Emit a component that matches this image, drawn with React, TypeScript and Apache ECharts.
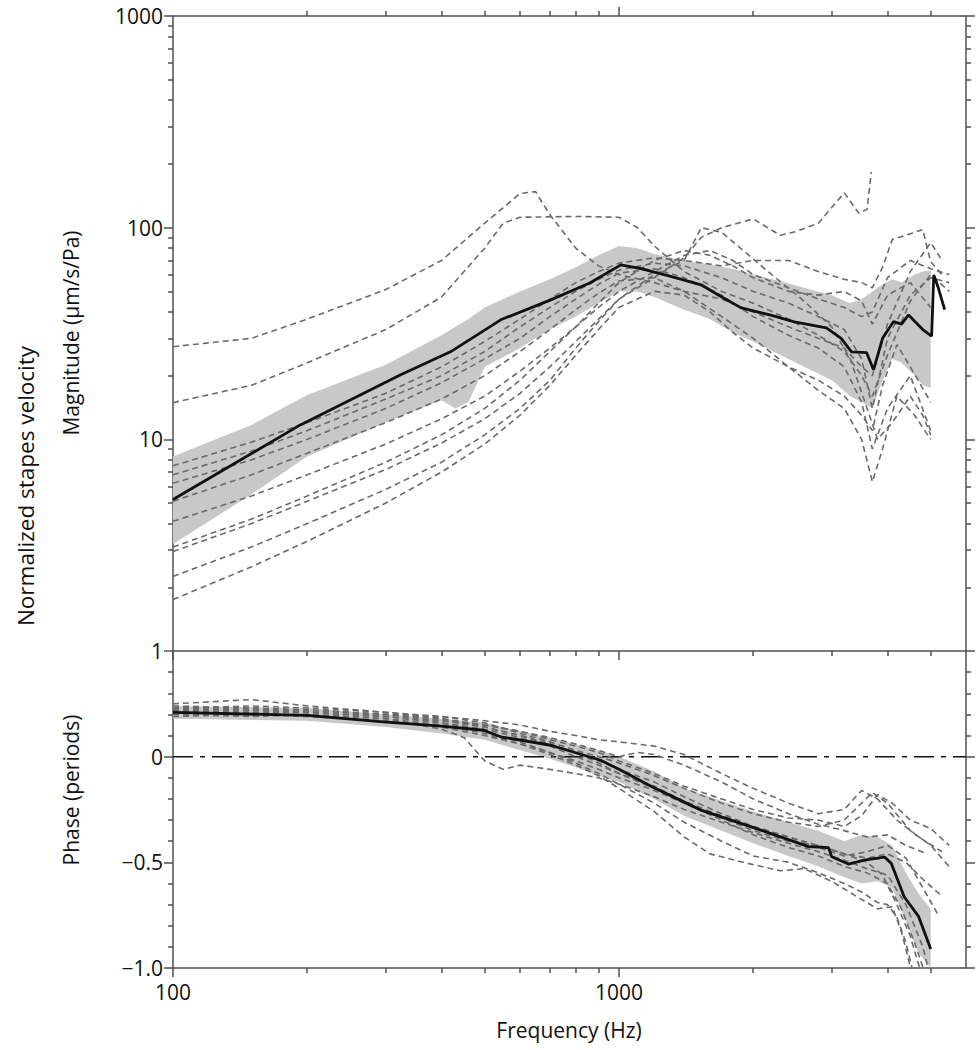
import React, { useEffect, useRef } from "react";
import * as echarts from "echarts";

// ---------- tick values ----------
const X_MAJOR = [100, 1000];
const X_MINOR = [200, 300, 400, 500, 600, 700, 800, 900, 2000, 3000, 4000, 5000];
const X_LABELS = [100, 1000];
const MAG_MAJOR = [1, 10, 100, 1000];
const MAG_MINOR = [2, 3, 4, 5, 6, 7, 8, 9, 20, 30, 40, 50, 60, 70, 80, 90, 200, 300, 400, 500, 600, 700, 800, 900];
const MAG_LABELS = [1, 10, 100, 1000];
const PHASE_MAJOR = [-1, -0.5, 0];
const PHASE_MINOR = [-0.9, -0.8, -0.7, -0.6, -0.4, -0.3, -0.2, -0.1, 0.1, 0.2, 0.3, 0.4];
const PHASE_LABELS = [-1, -0.5, 0];

// ---------- magnitude: mean and band ----------
const magMeanF = [100, 193, 324, 419, 543, 703, 860, 1010, 1120, 1300, 1528, 1700, 1880, 2200, 2473, 2918, 3150, 3322, 3590, 3722, 3900, 4128, 4300, 4460, 4800, 5024, 5080, 5200, 5374];
const magMeanV = [5.2, 11.7, 20.2, 25.9, 36.7, 45.6, 54.8, 66.7, 64, 59, 53.7, 47, 41.8, 38.5, 35.9, 33.6, 30, 25.9, 25.7, 21.3, 30, 36, 35, 38.7, 33, 30.7, 59.8, 52, 41];

const magBandF = [100, 150, 200, 300, 400, 430, 460, 500, 600, 700, 800, 900, 1000, 1100, 1200, 1400, 1600, 1800, 2000, 2300, 2600, 3000, 3300, 3500, 3700, 3900, 4100, 4300, 4600, 4800, 5000];
const magBandLow = [3.2, 5.5, 8.3, 12, 15.3, 14, 15, 22, 27, 33, 38, 44, 50, 50, 47, 41, 37, 32, 29, 25, 22, 19, 16, 15, 14, 19, 24, 23, 20, 18, 17.5];
const magBandUp = [8.3, 11.7, 16.2, 22.5, 31, 34, 37, 42, 50, 57, 65, 74, 82, 80, 75, 70, 67, 64, 60, 56, 52, 48, 44, 46, 50, 54, 57, 55, 60, 62, 63];

// ---------- magnitude: individual ears ----------
const magS1 = [[100, 27.4], [150, 30], [200, 37], [300, 51], [400, 70], [500, 105], [600, 145], [650, 148], [700, 115], [800, 80], [900, 66], [1000, 60], [1200, 55], [1400, 50], [1700, 46], [2000, 40], [2400, 34], [2800, 30], [3200, 27], [3500, 22], [3700, 20], [4000, 35], [4500, 62], [5000, 85], [5300, 70]];
const magS2 = [[100, 14.9], [150, 18], [200, 23], [300, 33], [400, 47], [500, 80], [550, 105], [600, 112], [800, 113], [1000, 112], [1100, 100], [1200, 82], [1400, 62], [1700, 50], [2000, 44], [2400, 37], [2800, 31], [3200, 26], [3500, 20], [3700, 16], [4000, 25], [4500, 45], [5000, 60], [5500, 50]];
const magS3 = [[100, 7.5], [150, 9.7], [200, 12], [300, 16.5], [400, 22], [500, 29], [600, 37], [700, 46], [800, 55], [900, 62], [1000, 68], [1200, 72], [1400, 70], [1700, 66], [2000, 70], [2400, 70], [2800, 62], [3200, 57], [3500, 55], [3700, 52], [3900, 65], [4100, 88], [4400, 92], [4800, 98], [5000, 69], [5300, 60]];
const magS4 = [[100, 6.8], [150, 8.8], [200, 11], [300, 15.5], [400, 20], [500, 26], [600, 34], [700, 42], [800, 50], [900, 57], [1000, 63], [1200, 68], [1400, 66], [1700, 58], [2000, 50], [2400, 44], [2800, 38], [3200, 33], [3500, 24], [3700, 14], [4000, 30], [4500, 48], [5000, 58], [5500, 55]];
const magS5 = [[100, 6.2], [150, 8], [200, 10], [300, 14], [400, 18.5], [500, 24], [600, 30], [700, 38], [800, 46], [900, 54], [1000, 61], [1200, 64], [1400, 58], [1700, 48], [2000, 38], [2400, 31], [2800, 27], [3200, 22], [3500, 15], [3700, 9], [4000, 14], [4500, 20], [5000, 11]];
const magS6 = [[100, 5.1], [150, 6.8], [200, 8.6], [300, 12], [400, 15.5], [500, 20], [600, 26], [700, 33], [800, 41], [900, 49], [1000, 56], [1200, 58], [1400, 50], [1700, 38], [2000, 30], [2400, 22], [2800, 17], [3200, 14], [3500, 10], [3700, 6.3], [3900, 9], [4200, 16], [4600, 13], [5000, 10]];
const magS7 = [[100, 4.1], [150, 5.4], [200, 6.8], [300, 9.5], [400, 12.5], [500, 16], [600, 21], [700, 27], [800, 34], [900, 42], [1000, 50], [1200, 62], [1400, 74], [1600, 78], [1800, 70], [2000, 60], [2400, 52], [2800, 46], [3200, 42], [3500, 38], [3700, 40], [4000, 58], [4500, 70], [5000, 64], [5500, 60]];
const magS8 = [[100, 3.1], [150, 4.2], [200, 5.4], [300, 7.8], [400, 10.5], [500, 14], [600, 19], [700, 26], [800, 34], [900, 44], [1000, 55], [1200, 70], [1400, 78], [1600, 74], [1800, 66], [2000, 58], [2400, 50], [2800, 48], [3200, 50], [3500, 45], [3700, 35], [4000, 48], [4500, 55], [5000, 42]];
const magS9 = [[100, 2.95], [150, 4], [200, 5.1], [300, 7.2], [400, 9.6], [500, 12.5], [600, 16.5], [700, 22], [800, 29], [900, 37], [1000, 46], [1200, 58], [1400, 72], [1530, 90], [1700, 100], [2000, 110], [2300, 92], [2500, 96], [2800, 105], [3200, 146], [3450, 117], [3600, 122], [3680, 183]];
const magS10 = [[100, 2.25], [150, 3.1], [200, 4], [300, 5.8], [400, 7.8], [500, 10.5], [600, 14], [700, 19], [800, 27], [900, 36], [1000, 46], [1200, 60], [1400, 70], [1530, 100], [1700, 95], [1900, 78], [2200, 60], [2600, 45], [3000, 34], [3300, 24], [3600, 14], [3800, 10], [4100, 12], [4500, 16], [4800, 13], [5000, 10.5]];
const magS11 = [[100, 1.75], [150, 2.5], [200, 3.3], [300, 5], [400, 7], [500, 9.5], [600, 13], [700, 18], [800, 25], [900, 33], [1000, 42], [1200, 50], [1400, 48], [1600, 40], [1800, 32], [2000, 27], [2400, 22], [2800, 19], [3200, 16], [3500, 13], [3700, 11], [3900, 18], [4200, 28], [4500, 22], [5000, 15]];
const magSubjects = [magS1, magS2, magS3, magS4, magS5, magS6, magS7, magS8, magS9, magS10, magS11];

// ---------- phase: mean and band ----------
const phMeanF = [100, 200, 296, 400, 497, 543, 703, 910, 1000, 1180, 1528, 1980, 2660, 2950, 3000, 3270, 3550, 3940, 4080, 4360, 4700, 5000];
const phMeanV = [0.21, 0.195, 0.165, 0.145, 0.125, 0.094, 0.054, -0.017, -0.06, -0.14, -0.253, -0.332, -0.426, -0.43, -0.474, -0.508, -0.49, -0.475, -0.505, -0.663, -0.757, -0.91];

const phBandF = [100, 200, 300, 400, 500, 600, 700, 800, 900, 1000, 1200, 1400, 1700, 2000, 2400, 2800, 3200, 3500, 3800, 4100, 4400, 4700, 5000];
const phBandLow = [0.18, 0.17, 0.14, 0.11, 0.08, 0.03, -0.01, -0.05, -0.09, -0.12, -0.2, -0.28, -0.35, -0.41, -0.47, -0.52, -0.57, -0.6, -0.59, -0.62, -0.78, -0.93, -1.0];
const phBandUp = [0.24, 0.23, 0.2, 0.18, 0.16, 0.12, 0.09, 0.06, 0.03, 0.0, -0.07, -0.15, -0.21, -0.26, -0.31, -0.35, -0.4, -0.37, -0.38, -0.42, -0.55, -0.65, -0.72];

// ---------- phase: individual ears ----------
const phS1 = [[100, 0.22], [150, 0.23], [200, 0.22], [300, 0.2], [400, 0.19], [500, 0.17], [600, 0.15], [700, 0.12], [800, 0.1], [900, 0.08], [1000, 0.07], [1200, 0.05], [1400, 0.01], [1700, -0.08], [2000, -0.15], [2400, -0.22], [2800, -0.27], [3200, -0.25], [3500, -0.16], [3800, -0.2], [4200, -0.3], [4700, -0.38], [5300, -0.45]];
const phS2 = [[100, 0.25], [150, 0.27], [200, 0.24], [300, 0.21], [400, 0.19], [500, 0.16], [600, 0.11], [700, 0.07], [800, 0.03], [900, 0.0], [1000, -0.03], [1200, -0.09], [1400, -0.15], [1700, -0.22], [2000, -0.27], [2400, -0.31], [2800, -0.33], [3200, -0.3], [3700, -0.17], [4000, -0.22], [4500, -0.35], [5000, -0.42], [5500, -0.52]];
const phS3 = [[100, 0.2], [150, 0.19], [200, 0.2], [300, 0.18], [400, 0.13], [450, 0.09], [500, -0.02], [550, -0.06], [600, -0.04], [700, -0.06], [800, -0.08], [900, -0.1], [1000, -0.13], [1200, -0.19], [1400, -0.25], [1700, -0.31], [2000, -0.36], [2400, -0.41], [2800, -0.45], [3200, -0.49], [3600, -0.53], [4000, -0.56], [4400, -0.7], [4800, -0.9], [5000, -1.05]];
const phS4 = [[100, 0.23], [150, 0.22], [200, 0.21], [300, 0.19], [400, 0.16], [500, 0.13], [600, 0.09], [700, 0.05], [800, 0.0], [900, -0.04], [1000, -0.08], [1200, -0.15], [1400, -0.22], [1700, -0.3], [2000, -0.37], [2400, -0.43], [2800, -0.47], [3200, -0.52], [3600, -0.55], [4000, -0.6], [4300, -0.72], [4600, -0.88], [4900, -1.05]];
const phS5 = [[100, 0.21], [150, 0.2], [200, 0.2], [300, 0.18], [400, 0.15], [500, 0.11], [600, 0.06], [700, 0.01], [800, -0.04], [900, -0.09], [1000, -0.15], [1200, -0.26], [1400, -0.38], [1600, -0.46], [1900, -0.5], [2300, -0.54], [2600, -0.53], [3000, -0.59], [3400, -0.66], [3800, -0.72], [4100, -0.71], [4300, -0.83], [4450, -0.95], [4550, -1.05]];
const phS6 = [[100, 0.24], [150, 0.23], [200, 0.22], [300, 0.2], [400, 0.17], [500, 0.14], [600, 0.1], [700, 0.06], [800, 0.02], [900, -0.02], [1000, -0.06], [1200, -0.12], [1400, -0.19], [1700, -0.27], [2000, -0.33], [2400, -0.38], [2800, -0.43], [3200, -0.47], [3600, -0.45], [4000, -0.42], [4400, -0.48], [4800, -0.62], [5200, -0.75]];
const phS7 = [[100, 0.19], [150, 0.2], [200, 0.19], [300, 0.17], [400, 0.14], [500, 0.1], [600, 0.06], [700, 0.02], [800, -0.02], [900, -0.06], [1000, -0.1], [1200, -0.16], [1400, -0.22], [1700, -0.29], [2000, -0.35], [2400, -0.4], [2800, -0.42], [3200, -0.46], [3600, -0.5], [3900, -0.56], [4200, -0.7], [4500, -0.85], [4800, -1.05]];
const phS8 = [[100, 0.22], [150, 0.21], [200, 0.21], [300, 0.19], [400, 0.17], [500, 0.15], [600, 0.12], [700, 0.09], [800, 0.06], [900, 0.03], [1000, 0.0], [1100, 0.02], [1200, 0.01], [1400, -0.04], [1700, -0.12], [2000, -0.2], [2400, -0.27], [2800, -0.32], [3200, -0.35], [3600, -0.38], [4000, -0.37], [4400, -0.42], [4900, -0.46]];
const phS9 = [[100, 0.2], [150, 0.21], [200, 0.21], [300, 0.19], [400, 0.16], [500, 0.12], [600, 0.07], [700, 0.02], [800, -0.03], [900, -0.08], [1000, -0.13], [1200, -0.22], [1400, -0.31], [1700, -0.4], [2000, -0.47], [2400, -0.5], [2800, -0.55], [3200, -0.6], [3500, -0.64], [3800, -0.69], [4000, -0.7], [4200, -0.76], [4400, -0.88], [4600, -1.05]];
const phS10 = [[100, 0.23], [150, 0.24], [200, 0.23], [300, 0.21], [400, 0.18], [500, 0.15], [600, 0.12], [700, 0.08], [800, 0.05], [900, 0.02], [1000, -0.02], [1200, -0.08], [1400, -0.14], [1700, -0.2], [2000, -0.25], [2400, -0.29], [2800, -0.3], [3200, -0.33], [3500, -0.28], [3800, -0.18], [4100, -0.22], [4500, -0.3], [5000, -0.34], [5500, -0.42]];
const phS11 = [[100, 0.21], [150, 0.22], [200, 0.22], [300, 0.2], [400, 0.18], [500, 0.14], [600, 0.1], [700, 0.06], [800, 0.02], [900, -0.03], [1000, -0.08], [1200, -0.14], [1400, -0.21], [1700, -0.28], [2000, -0.33], [2400, -0.38], [2800, -0.42], [3200, -0.46], [3600, -0.48], [4000, -0.46], [4400, -0.5], [4800, -0.58], [5300, -0.66]];
const phSubjects = [phS1, phS2, phS3, phS4, phS5, phS6, phS7, phS8, phS9, phS10, phS11];

const ZERO_LINE = [[100, 0], [6000, 0]];

// ---------- styles ----------
const FONT = "'Open Sans', 'Noto Sans', 'DejaVu Sans', sans-serif";
const AXIS_COLOR = "#505050";
const TEXT_COLOR = "#111111";
const DASH_COLOR = "#6a6a6a";
const BAND_COLOR = "#c8c8c8";
const MEAN_COLOR = "#111111";
const FS = 21;

const GRID_LEFT = 173;
const GRID_W = 793;
const TOP_Y = 16;
const MID_Y = 651;
const BOT_Y = 968;

function xAxisDef(gridIndex: number, position: string, ticks: number[], len: number, showLine: boolean, labels?: number[]) {
  return {
    type: "log",
    logBase: 10,
    gridIndex,
    position,
    min: 100,
    max: 6000,
    axisLine: { show: showLine, onZero: false, lineStyle: { color: AXIS_COLOR, width: 1.5 } },
    axisTick: { show: true, inside: false, length: len, customValues: ticks, lineStyle: { color: AXIS_COLOR, width: 1.5 } },
    axisLabel: labels
      ? { show: true, customValues: labels, margin: 13, color: TEXT_COLOR, fontSize: FS, fontFamily: FONT, formatter: (v: number) => String(Math.round(v)) }
      : { show: false },
    splitLine: { show: false },
    minorTick: { show: false },
  };
}

function magAxisDef(position: string, ticks: number[], len: number, showLine: boolean, labels?: number[]) {
  return {
    type: "log",
    logBase: 10,
    gridIndex: 0,
    position,
    min: 1,
    max: 1000,
    axisLine: { show: showLine, onZero: false, lineStyle: { color: AXIS_COLOR, width: 1.5 } },
    axisTick: { show: true, inside: false, length: len, customValues: ticks, lineStyle: { color: AXIS_COLOR, width: 1.5 } },
    axisLabel: labels
      ? { show: true, customValues: labels, margin: 10, color: TEXT_COLOR, fontSize: FS, fontFamily: FONT, formatter: (v: number) => String(Math.round(v)) }
      : { show: false },
    splitLine: { show: false },
  };
}

function phaseAxisDef(position: string, ticks: number[], len: number, showLine: boolean, labels?: number[]) {
  return {
    type: "value",
    gridIndex: 1,
    position,
    min: -1,
    max: 0.5,
    axisLine: { show: showLine, onZero: false, lineStyle: { color: AXIS_COLOR, width: 1.5 } },
    axisTick: { show: true, inside: false, length: len, customValues: ticks, lineStyle: { color: AXIS_COLOR, width: 1.5 } },
    axisLabel: labels
      ? {
          show: true,
          customValues: labels,
          margin: 10,
          color: TEXT_COLOR,
          fontSize: FS,
          fontFamily: FONT,
          formatter: (v: number) => (Math.abs(v) < 1e-9 ? "0" : (v < 0 ? "\u2212" : "") + Math.abs(v).toFixed(1)),
        }
      : { show: false },
    splitLine: { show: false },
  };
}

function dashed(data: number[][], xi: number, yi: number) {
  return {
    type: "line",
    xAxisIndex: xi,
    yAxisIndex: yi,
    data,
    symbol: "none",
    silent: true,
    z: 3,
    lineStyle: { color: DASH_COLOR, width: 1.6, type: [6, 4] },
  };
}

// shaded ±SD band drawn as one polygon through the axes' own coordinate mapping
function bandSeries(f: number[], lo: number[], up: number[], xi: number, yi: number) {
  return {
    type: "custom",
    xAxisIndex: xi,
    yAxisIndex: yi,
    data: f.map((x, i) => [x, lo[i], up[i]]),
    encode: { x: 0, y: [1, 2] },
    silent: true,
    z: 1,
    renderItem: (params: any, api: any) => {
      if (params.dataIndex !== 0) return null;
      const pts: number[][] = [];
      for (let i = 0; i < f.length; i++) pts.push(api.coord([f[i], up[i]]));
      for (let i = f.length - 1; i >= 0; i--) pts.push(api.coord([f[i], lo[i]]));
      return { type: "polygon", shape: { points: pts }, style: { fill: BAND_COLOR }, silent: true };
    },
  };
}

export default function App() {
  const ref = useRef<HTMLDivElement>(null);
  useEffect(() => {
    document.body.style.margin = "0";
    document.body.style.overflow = "hidden";
    if (!ref.current) return;
    const chart = echarts.init(ref.current, undefined, { renderer: "svg" });

    const series: any[] = [];
    series.push(bandSeries(magBandF, magBandLow, magBandUp, 0, 0));
    series.push(bandSeries(phBandF, phBandLow, phBandUp, 4, 4));
    magSubjects.forEach((s) => series.push(dashed(s, 0, 0)));
    phSubjects.forEach((s) => series.push(dashed(s, 4, 4)));
    series.push({
      type: "line",
      xAxisIndex: 4,
      yAxisIndex: 4,
      data: ZERO_LINE,
      symbol: "none",
      silent: true,
      z: 2,
      lineStyle: { color: "#111", width: 1.5, type: [20, 7, 5, 7] },
    });
    series.push({
      type: "line",
      xAxisIndex: 0,
      yAxisIndex: 0,
      data: magMeanF.map((f, i) => [f, magMeanV[i]]),
      symbol: "none",
      silent: true,
      z: 5,
      lineStyle: { color: MEAN_COLOR, width: 2.8 },
    });
    series.push({
      type: "line",
      xAxisIndex: 4,
      yAxisIndex: 4,
      data: phMeanF.map((f, i) => [f, phMeanV[i]]),
      symbol: "none",
      silent: true,
      z: 5,
      lineStyle: { color: MEAN_COLOR, width: 2.8 },
    });

    const option: any = {
      animation: false,
      backgroundColor: "#ffffff",
      grid: [
        { left: GRID_LEFT, top: TOP_Y, width: GRID_W, height: MID_Y - TOP_Y, containLabel: false },
        { left: GRID_LEFT, top: MID_Y, width: GRID_W, height: BOT_Y - MID_Y, containLabel: false },
      ],
      xAxis: [
        xAxisDef(0, "bottom", X_MAJOR, 9, true),
        xAxisDef(0, "bottom", X_MINOR, 5, false),
        xAxisDef(0, "top", [1000], 9, true),
        xAxisDef(0, "top", X_MINOR, 5, false),
        xAxisDef(1, "bottom", X_MAJOR, 9, true, X_LABELS),
        xAxisDef(1, "bottom", X_MINOR, 5, false),
      ],
      yAxis: [
        magAxisDef("left", MAG_MAJOR, 9, true, MAG_LABELS),
        magAxisDef("left", MAG_MINOR, 5, false),
        magAxisDef("right", MAG_MAJOR, 9, true),
        magAxisDef("right", MAG_MINOR, 5, false),
        phaseAxisDef("left", PHASE_MAJOR, 9, true, PHASE_LABELS),
        phaseAxisDef("left", PHASE_MINOR, 5, false),
        phaseAxisDef("right", PHASE_MAJOR, 9, true),
        phaseAxisDef("right", PHASE_MINOR, 5, false),
      ],
      graphic: [
        {
          type: "text",
          x: 25,
          y: 486,
          rotation: Math.PI / 2,
          style: { text: "Normalized stapes velocity", font: `22.5px ${FONT}`, fill: TEXT_COLOR, align: "center", verticalAlign: "middle" },
        },
        {
          type: "text",
          x: 71,
          y: 333,
          rotation: Math.PI / 2,
          style: { text: "Magnitude (\u00b5m/s/Pa)", font: `${FS}px ${FONT}`, fill: TEXT_COLOR, align: "center", verticalAlign: "middle" },
        },
        {
          type: "text",
          x: 71,
          y: 790,
          rotation: Math.PI / 2,
          style: { text: "Phase (periods)", font: `${FS}px ${FONT}`, fill: TEXT_COLOR, align: "center", verticalAlign: "middle" },
        },
        {
          type: "text",
          x: 569,
          y: 1030,
          style: { text: "Frequency (Hz)", font: `${FS}px ${FONT}`, fill: TEXT_COLOR, align: "center", verticalAlign: "middle" },
        },
      ],
      series,
    };
    chart.setOption(option);
    return () => chart.dispose();
  }, []);
  return <div ref={ref} style={{ width: 979, height: 1050 }} />;
}
